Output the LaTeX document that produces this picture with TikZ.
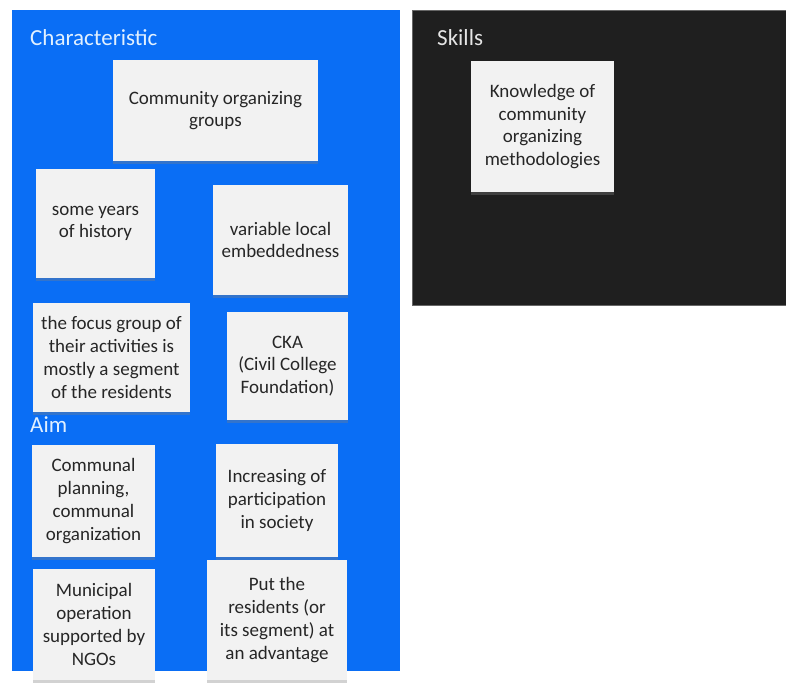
\documentclass[tikz,border=0pt]{standalone}
\usepackage{fontspec}
\setmainfont{Carlito}
\usetikzlibrary{shadows}
\definecolor{boardblue}{RGB}{10,110,245}
\definecolor{boardblack}{RGB}{31,31,31}
\definecolor{notepaper}{RGB}{242,242,242}
\definecolor{titleblue}{RGB}{225,240,255}
\begin{document}
\begin{tikzpicture}[
	x=1pt, y=-1pt,
	title/.style = {anchor=base west, inner sep=0pt, font=\fontsize{23}{27}\selectfont},
	note/.style = {fill=notepaper, align=center, inner sep=2pt,
		font=\fontsize{19}{22.7}\selectfont, text=black!85,
		drop shadow={shadow xshift=0pt, shadow yshift=-3pt, opacity=.35}},
	]
	\useasboundingbox[fill=white] (0,0) rectangle (786,684);
%
	\fill[boardblue] (12,10) rectangle (400,671);
	\filldraw[fill=boardblack, draw=black!60] (412,10) rectangle (786,305);
%
	\node[title, text=titleblue] (tchar) at (30,46) {Characteristic};
	\node[title, text=titleblue] (taim) at (30,432) {Aim};
	\node[title, text=white!90!black] (tskill) at (437,46) {Skills};
%
	\node[note, minimum width=205, minimum height=101] (comm) at (215.5,110.5)
		{Community organizing\\groups};
	\node[note, minimum width=119, minimum height=109] (hist) at (95.5,223.5)
		{some years\\of history};
	\node[note, minimum width=135, minimum height=110] (embed) at (280.5,240)
		{variable local\\embeddedness};
	\node[note, minimum width=157, minimum height=109] (focus) at (111.5,357.5)
		{the focus group of\\their activities is\\mostly a segment\\of the residents};
	\node[note, minimum width=121, minimum height=108] (cka) at (287.5,366)
		{CKA\\(Civil College\\Foundation)};
%
	\node[note, minimum width=123, minimum height=112] (plan) at (93.5,501)
		{Communal\\planning,\\communal\\organization};
	\node[note, minimum width=122, minimum height=113] (partic) at (277,500.5)
		{Increasing of\\participation\\in society};
	\node[note, minimum width=122, minimum height=111] (ngo) at (94,624.5)
		{Municipal\\operation\\supported by\\NGOs};
	\node[note, minimum width=140, minimum height=120] (adv) at (277,620)
		{Put the\\residents (or\\its segment) at\\an advantage};
%
	\node[note, minimum width=143, minimum height=131] (know) at (542.5,126.5)
		{Knowledge of\\community\\organizing\\methodologies};
\end{tikzpicture}
\end{document}
